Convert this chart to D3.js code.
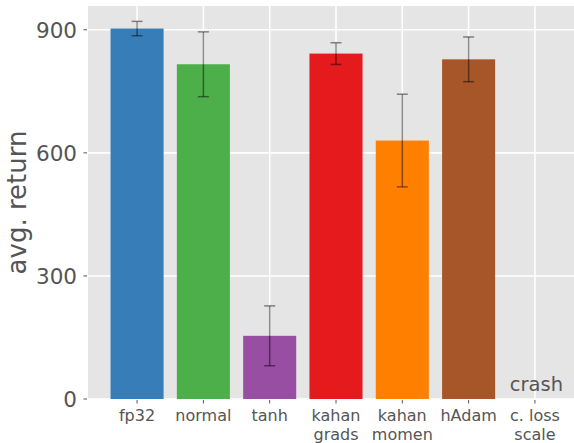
<!DOCTYPE html>
<html>
<head>
<meta charset="utf-8">
<script src="https://cdn.jsdelivr.net/npm/d3@7"></script>
<style>
  html, body { margin: 0; padding: 0; background: #fff; }
  svg { display: block; }
  text { font-family: "DejaVu Sans", sans-serif; }
</style>
</head>
<body>
<script>
const categories = [["fp32"], ["normal"], ["tanh"], ["kahan", "grads"], ["kahan", "momen"], ["hAdam"], ["c. loss", "scale"]];
const values = [903, 816, 154, 842, 630, 828, null];
const errors = [17.5, 79, 73, 26.5, 113, 54.5, null];
const colors = ["#377eb8", "#4daf4a", "#984ea3", "#e41a1c", "#ff7f00", "#a65628", null];
const yTicks = [0, 300, 600, 900];
const yLabel = "avg. return";
const crashLabel = "crash";

const W = 574, H = 443;
const pLeft = 88, pTop = 6, pBottom = 399, pRight = 584;

const svg = d3.select("body").append("svg").attr("width", W).attr("height", H);

const n = categories.length;
const x = d3.scaleLinear().domain([-0.74, n - 1 + 0.74]).range([pLeft, pRight]);
const y = d3.scaleLinear().domain([0, 958]).range([pBottom, pTop]);
const step = x(1) - x(0);
const barW = step * 0.8;

svg.append("rect").attr("x", pLeft).attr("y", pTop)
  .attr("width", pRight - pLeft).attr("height", pBottom - pTop).attr("fill", "#e5e5e5");

// grid
svg.append("g").selectAll("line").data(yTicks).join("line")
  .attr("x1", pLeft).attr("x2", pRight).attr("y1", d => y(d)).attr("y2", d => y(d))
  .attr("stroke", "#fff").attr("stroke-width", 1.6);
svg.append("g").selectAll("line").data(d3.range(n)).join("line")
  .attr("x1", d => x(d)).attr("x2", d => x(d)).attr("y1", pTop).attr("y2", pBottom)
  .attr("stroke", "#fff").attr("stroke-width", 1.6);

// bars
const idx = d3.range(n).filter(i => values[i] != null);
svg.append("g").selectAll("rect").data(idx).join("rect")
  .attr("x", i => x(i) - barW / 2).attr("width", barW)
  .attr("y", i => y(values[i])).attr("height", i => y(0) - y(values[i]))
  .attr("fill", i => colors[i]);

// error bars
const eg = svg.append("g").attr("stroke", "#000").attr("stroke-opacity", 0.45).attr("stroke-width", 1.5);
idx.forEach(i => {
  const v = values[i], e = errors[i];
  eg.append("line").attr("x1", x(i)).attr("x2", x(i)).attr("y1", y(v - e)).attr("y2", y(v + e));
  [v - e, v + e].forEach(t => {
    eg.append("line").attr("x1", x(i) - 5.5).attr("x2", x(i) + 5.5).attr("y1", y(t)).attr("y2", y(t));
  });
});

// y axis ticks + labels
const yg = svg.append("g");
yg.selectAll("line").data(yTicks).join("line")
  .attr("x1", pLeft - 4.5).attr("x2", pLeft - 1).attr("y1", d => y(d)).attr("y2", d => y(d))
  .attr("stroke", "#555").attr("stroke-width", 1);
yg.selectAll("text").data(yTicks).join("text")
  .attr("x", 77).attr("y", d => y(d)).attr("dy", "0.36em")
  .attr("text-anchor", "end").attr("font-size", 21.5).attr("fill", "#555")
  .text(d => d);

// x axis ticks + labels
const xg = svg.append("g");
xg.selectAll("line").data(d3.range(n)).join("line")
  .attr("x1", d => x(d)).attr("x2", d => x(d)).attr("y1", pBottom + 1).attr("y2", pBottom + 4.5)
  .attr("stroke", "#555").attr("stroke-width", 1);
d3.range(n).forEach(i => {
  const t = xg.append("text").attr("x", x(i)).attr("y", 421)
    .attr("text-anchor", "middle").attr("font-size", 16).attr("fill", "#555");
  categories[i].forEach((s, k) => {
    t.append("tspan").attr("x", x(i)).attr("dy", k === 0 ? 0 : 19).text(s);
  });
});

// y label
svg.append("text").attr("transform", `translate(25.5,${(pTop + pBottom) / 2}) rotate(-90)`)
  .attr("text-anchor", "middle").attr("font-size", 26).attr("fill", "#555").text(yLabel);

// crash label
svg.append("text").attr("x", x(6) + 1.5).attr("y", 391).attr("text-anchor", "middle")
  .attr("font-size", 19.5).attr("fill", "#555").text(crashLabel);
</script>
</body>
</html>
